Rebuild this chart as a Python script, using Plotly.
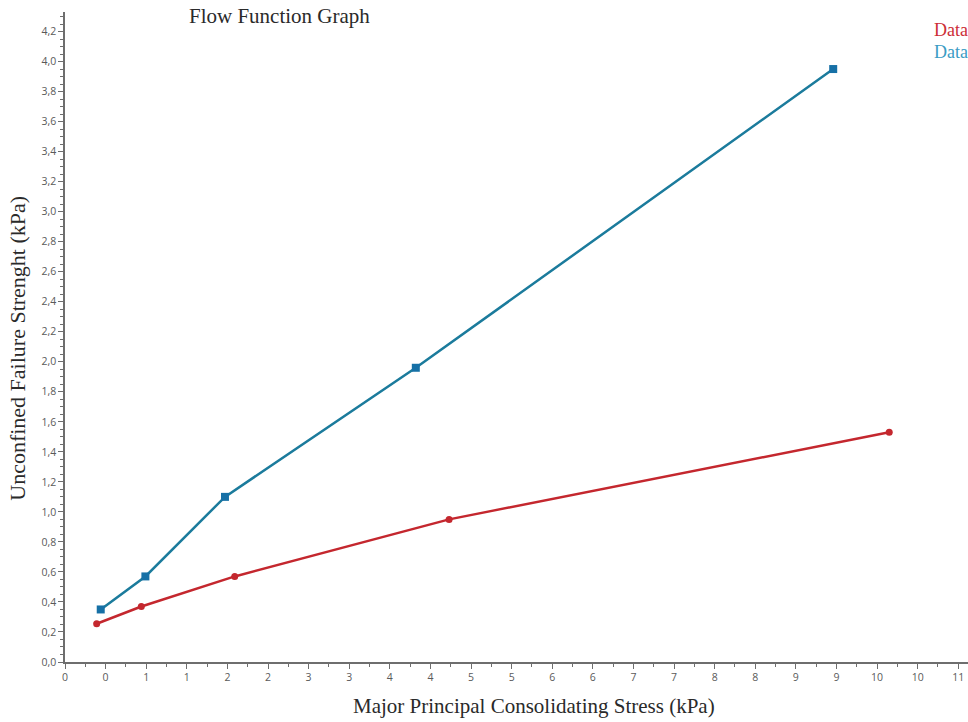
import plotly.graph_objects as go

# Data
red_x = [0.39, 0.94, 2.09, 4.73, 10.15]
red_y = [0.255, 0.37, 0.57, 0.95, 1.53]
blue_x = [0.44, 0.99, 1.97, 4.32, 9.46]
blue_y = [0.35, 0.57, 1.10, 1.96, 3.95]

x_tickvals = [i * 0.5 for i in range(23)]
x_ticktext = [str(int(v // 1)) for v in x_tickvals]
y_tickvals = [round(i * 0.2, 1) for i in range(22)]
y_ticktext = [f"{v:.1f}".replace(".", ",") for v in y_tickvals]

legend_names = ["Data", "Data"]
title_text = "Flow Function Graph"
x_title = "Major Principal Consolidating Stress (kPa)"
y_title = "Unconfined Failure Strenght (kPa)"

RED = "#c4272e"
BLUE_LINE = "#1b7b9c"
BLUE_MARK = "#1670a6"

fig = go.Figure()
fig.add_trace(go.Scatter(x=blue_x, y=blue_y, mode="lines+markers",
                         line=dict(color=BLUE_LINE, width=2.5),
                         marker=dict(symbol="square", size=8, color=BLUE_MARK),
                         name=legend_names[1], cliponaxis=False))
fig.add_trace(go.Scatter(x=red_x, y=red_y, mode="lines+markers",
                         line=dict(color=RED, width=2.5),
                         marker=dict(symbol="circle", size=7, color=RED),
                         name=legend_names[0], cliponaxis=False))

serif = "Liberation Serif, Times New Roman, serif"
tickfont = dict(family="Open Sans, Liberation Sans, sans-serif", size=10.5, color="#5a5a5a")
axis_col = "#6e6e6e"

fig.update_layout(
    width=968, height=722,
    margin=dict(l=65, r=0, t=12, b=60),
    paper_bgcolor="white", plot_bgcolor="white",
    showlegend=False,
    xaxis=dict(range=[0, 11.12], showgrid=False, zeroline=False,
               showline=True, linecolor=axis_col, linewidth=1.5,
               ticks="outside", ticklen=5, tickcolor=axis_col,
               tickvals=x_tickvals, ticktext=x_ticktext, tickfont=tickfont,
               minor=dict(ticks="outside", ticklen=3, dtick=0.25, tick0=0,
                          tickcolor=axis_col, showgrid=False)),
    yaxis=dict(range=[0, 4.33], showgrid=False, zeroline=False,
               showline=True, linecolor=axis_col, linewidth=1.5,
               ticks="outside", ticklen=5, tickcolor=axis_col,
               tickvals=y_tickvals, ticktext=y_ticktext, tickfont=tickfont,
               minor=dict(ticks="outside", ticklen=3, dtick=0.05, tick0=0,
                          tickcolor=axis_col, showgrid=False)),
    annotations=[
        dict(text=title_text, xref="paper", yref="paper", x=0.135, y=0.994,
             xanchor="left", yanchor="middle", showarrow=False,
             font=dict(family=serif, size=21, color="#2a2a2a")),
        dict(text=x_title, xref="paper", yref="paper", x=0.519, y=-0.068,
             xanchor="center", yanchor="middle", showarrow=False,
             font=dict(family=serif, size=21, color="#2a2a2a")),
        dict(text=y_title, xref="paper", yref="paper", x=-0.052, y=0.482,
             xanchor="center", yanchor="middle", showarrow=False, textangle=-90,
             font=dict(family=serif, size=22, color="#2a2a2a")),
        dict(text=legend_names[0], xref="paper", yref="paper", x=0.960, y=0.972,
             xanchor="left", yanchor="middle", showarrow=False,
             font=dict(family=serif, size=18, color="#cc2e36")),
        dict(text=legend_names[1], xref="paper", yref="paper", x=0.960, y=0.938,
             xanchor="left", yanchor="middle", showarrow=False,
             font=dict(family=serif, size=18, color="#3a9cc4")),
    ],
)

fig.write_html("out.html")
